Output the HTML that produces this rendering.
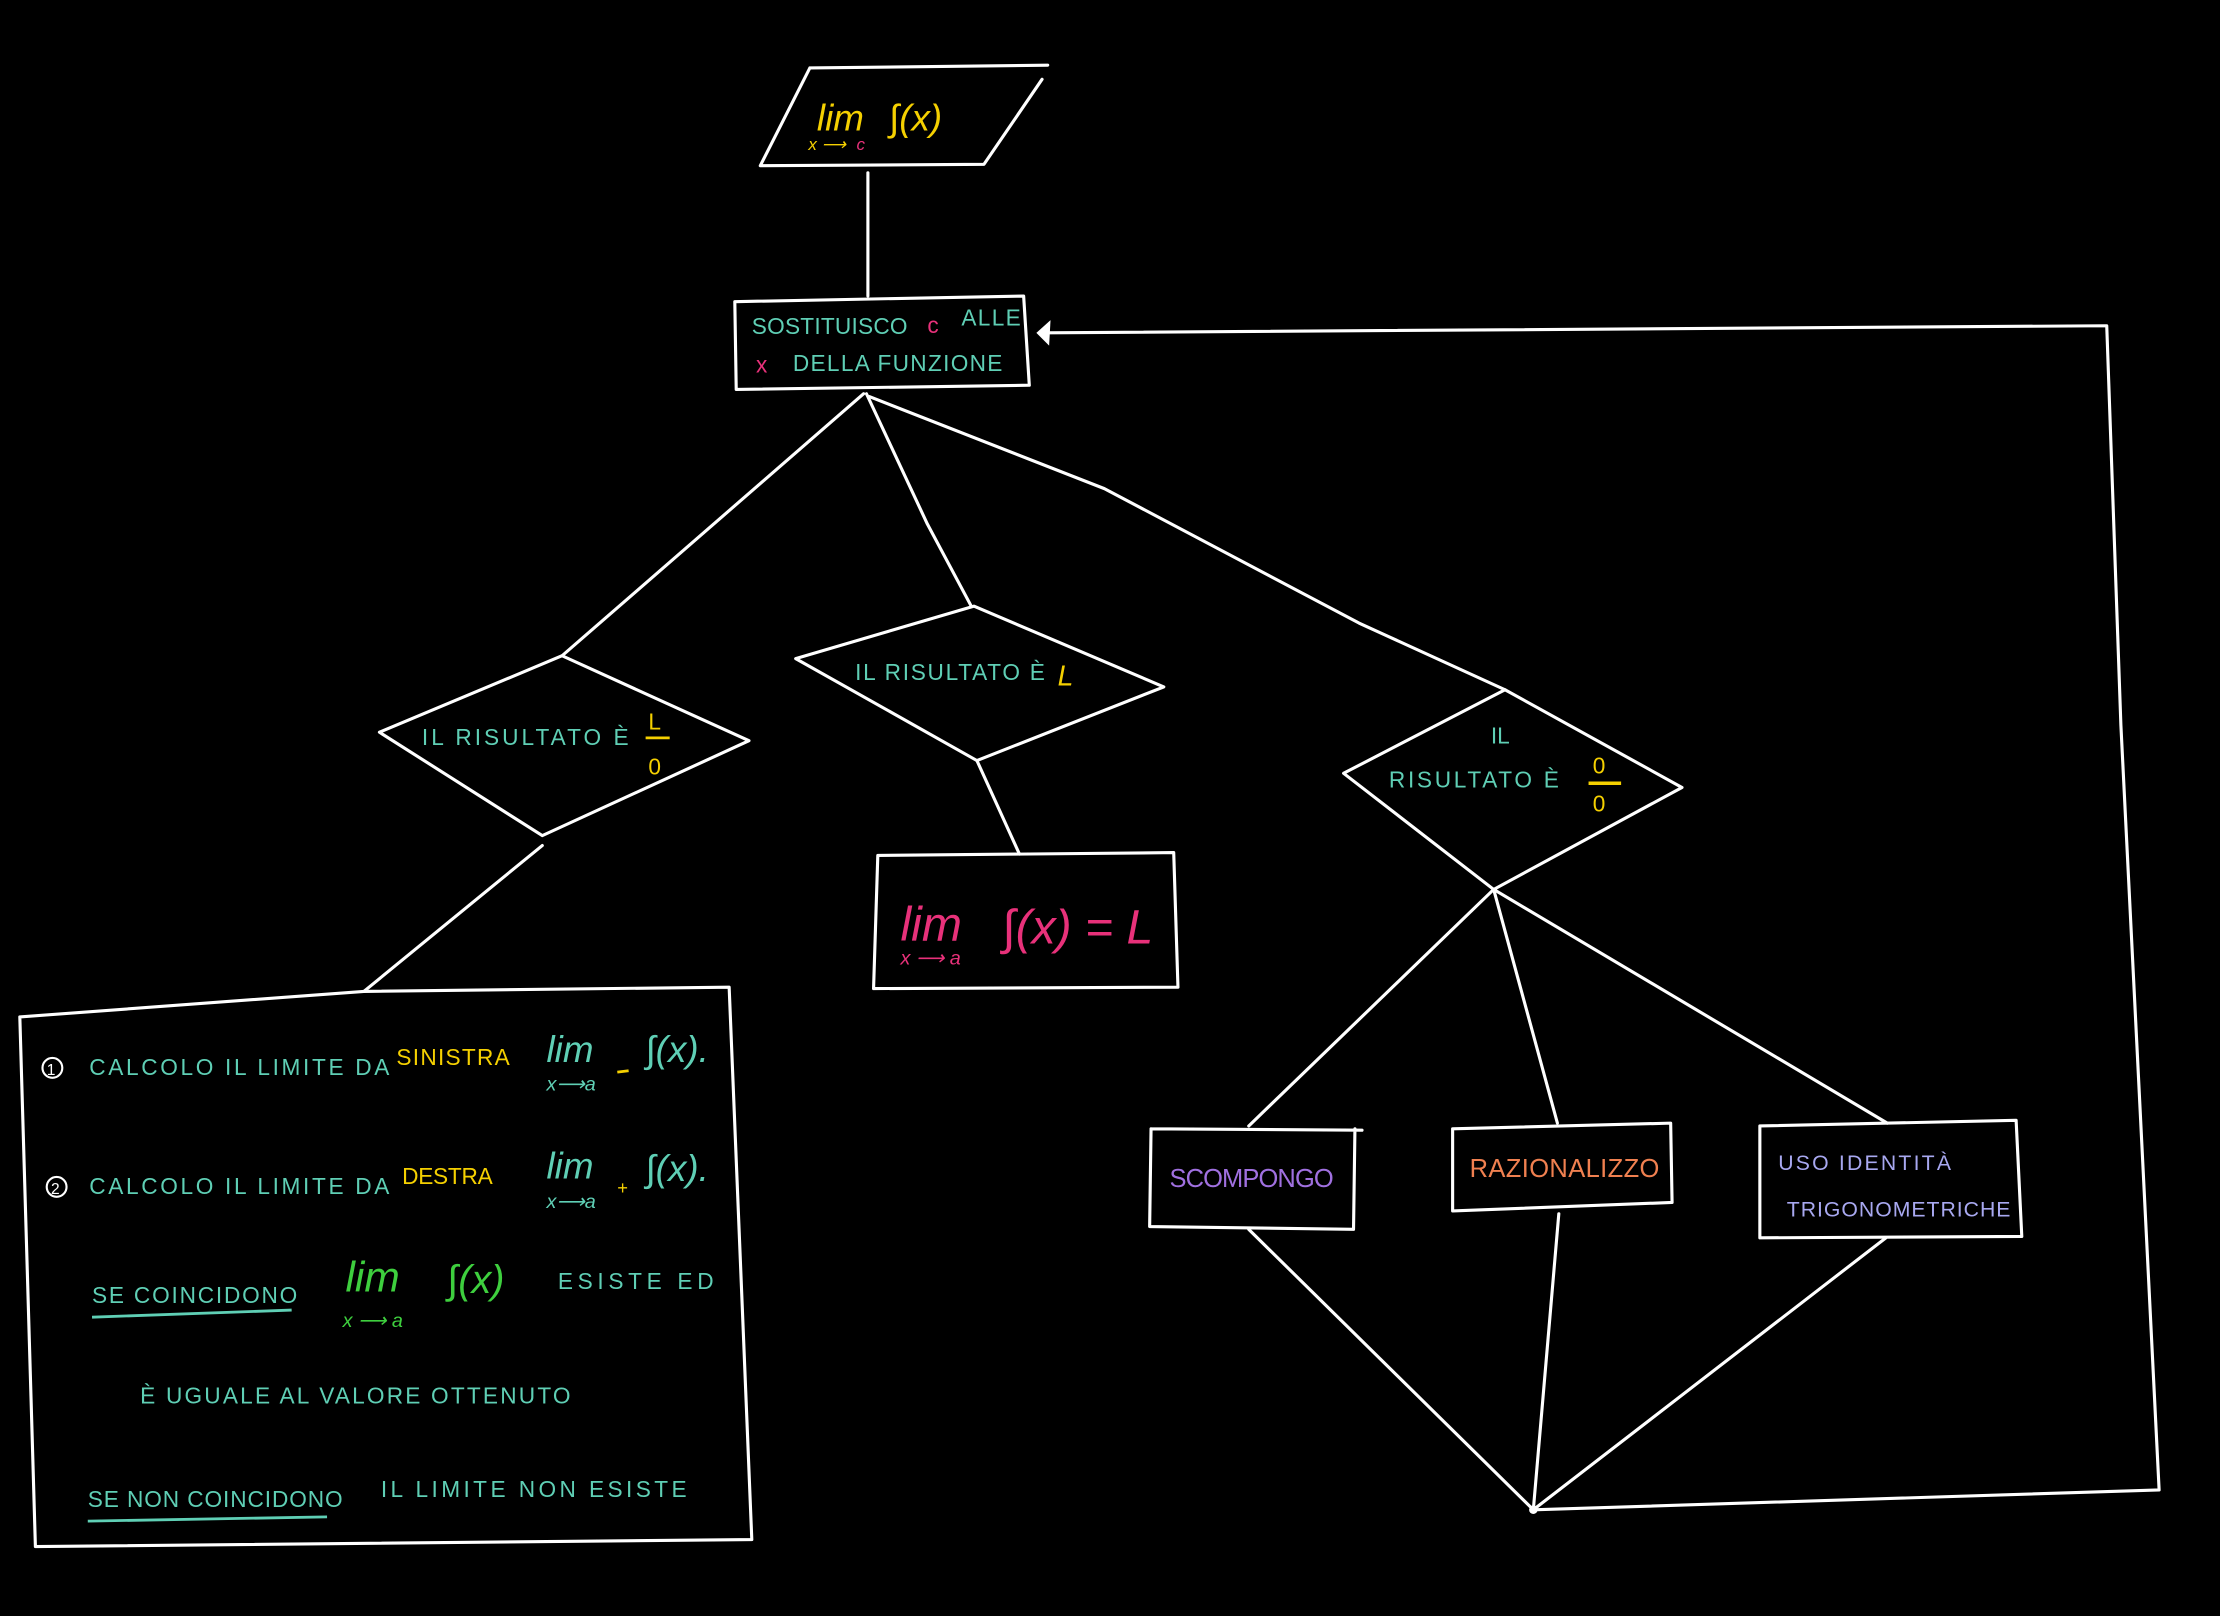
<!DOCTYPE html>
<html><head><meta charset="utf-8">
<style>
html,body{margin:0;padding:0;background:#000;}
svg{display:block;}
text{font-family:"Liberation Sans",sans-serif;}
</style></head>
<body>
<svg width="2220" height="1616" viewBox="0 0 1568 1141" preserveAspectRatio="none" xmlns="http://www.w3.org/2000/svg">
<rect width="1568" height="1141" fill="#000"/>
<g fill="none" stroke="#fff" stroke-width="2.2" stroke-linecap="round" stroke-linejoin="round">
<path d="M572,48 L740,46 M572,48 L537,117 L695,116 L736,56"/>
<line x1="613" y1="122" x2="613" y2="209"/>
<path d="M519,213 L723,209 L727,272 L520,275 Z"/>
<path d="M1083,1066 L1525,1052 L1498,512 L1488,230 L740,235"/>
<path d="M610,278 L397,463"/>
<path d="M612,278 L655,370 L686,428"/>
<path d="M614,280 L780,345 L960,440 L1063,487"/>
<path d="M397,463 L529,523 L383,590 L268,517 Z"/>
<path d="M383,597 L257,700"/>
<path d="M688,428 L822,485 L690,537 L562,465 Z"/>
<path d="M690,537 L720,603"/>
<path d="M620,604 L829,602 L832,697 L617,698 Z"/>
<path d="M1063,487 L1188,556 L1055,628 L949,546 Z"/>
<path d="M1055,628 L882,795"/>
<path d="M1055,628 L1100,793"/>
<path d="M1055,628 L1333,793"/>
<path d="M813,797 L962,798 M957,797 L956,868 L812,866 L813,797"/>
<path d="M1026,797 L1180,793 L1181,849 L1026,855 Z"/>
<path d="M1243,795 L1424,791 L1428,873 L1243,874 Z"/>
<path d="M882,868 L1083,1066 L1101,857"/>
<path d="M1332,874 L1083,1066"/>
<path d="M14,718 L257,700 L515,697 L531,1087 L25,1092 L14,718"/>
</g>
<polygon points="732,235 742,226 741,244" fill="#fff"/>
<circle cx="1083" cy="1066" r="3" fill="#fff"/>

<g font-style="italic">
<text x="577" y="92" font-size="26" fill="#f5d000">lim</text>
<text x="571" y="106" font-size="12" fill="#f5d000">x ⟶</text>
<text x="605" y="106" font-size="12" fill="#e8317a">c</text>
<text x="628" y="92" font-size="26" fill="#f5d000">∫(x)</text>
</g>
<text x="531" y="236" font-size="16" fill="#5fcfb5" textLength="110">SOSTITUISCO</text>
<text x="655" y="235" font-size="16" fill="#e8317a">c</text>
<text x="679" y="230" font-size="16" fill="#5fcfb5" textLength="42">ALLE</text>
<text x="534" y="263" font-size="16" fill="#e8317a">x</text>
<text x="560" y="262" font-size="16" fill="#5fcfb5" textLength="148">DELLA FUNZIONE</text>

<text x="298" y="526" font-size="16" fill="#5fcfb5" textLength="146">IL RISULTATO È</text>
<text x="458" y="515" font-size="16" fill="#f5d000">L</text>
<line x1="456" y1="521" x2="473" y2="521" stroke="#f5d000" stroke-width="2"/>
<text x="458" y="547" font-size="16" fill="#f5d000">0</text>
<text x="604" y="480" font-size="16" fill="#5fcfb5" textLength="134">IL RISULTATO È</text>
<text x="747" y="484" font-size="20" fill="#f5d000" font-style="italic">L</text>
<g font-style="italic" fill="#e8317a">
<text x="636" y="664" font-size="34">lim</text>
<text x="636" y="681" font-size="14">x ⟶ a</text>
<text x="708" y="666" font-size="34">∫(x) = L</text>
</g>
<text x="1053" y="525" font-size="16" fill="#5fcfb5">IL</text>
<text x="981" y="556" font-size="16" fill="#5fcfb5" textLength="120">RISULTATO È</text>
<text x="1125" y="546" font-size="16" fill="#f5d000">0</text>
<line x1="1122" y1="553" x2="1145" y2="553" stroke="#f5d000" stroke-width="2.5"/>
<text x="1125" y="573" font-size="16" fill="#f5d000">0</text>
<text x="826" y="838" font-size="18" fill="#a070e0" textLength="116">SCOMPONGO</text>
<text x="1038" y="831" font-size="18" fill="#f08050" textLength="134">RAZIONALIZZO</text>
<text x="1256" y="826" font-size="15" fill="#a8a8f0" textLength="122">USO IDENTITÀ</text>
<text x="1262" y="859" font-size="15" fill="#a8a8f0" textLength="158">TRIGONOMETRICHE</text>

<circle cx="37" cy="754" r="7" fill="none" stroke="#fff" stroke-width="1.5"/>
<text x="33" y="759" font-size="11" fill="#fff">1</text>
<text x="63" y="759" font-size="16" fill="#5fcfb5" textLength="212">CALCOLO IL LIMITE DA</text>
<text x="280" y="752" font-size="16" fill="#f5d000" textLength="80">SINISTRA</text>
<g font-style="italic" fill="#5fcfb5">
<text x="386" y="750" font-size="26">lim</text>
<text x="386" y="770" font-size="14">x⟶a</text>
<text x="456" y="750" font-size="26">∫(x).</text>
<text x="386" y="832" font-size="26">lim</text>
<text x="386" y="853" font-size="14">x⟶a</text>
<text x="456" y="834" font-size="26">∫(x).</text>
</g>
<line x1="436" y1="757" x2="444" y2="756" stroke="#f5d000" stroke-width="2"/>
<text x="436" y="843" font-size="13" fill="#f5d000">+</text>
<circle cx="40" cy="838" r="7" fill="none" stroke="#fff" stroke-width="1.5"/>
<text x="36" y="843" font-size="11" fill="#fff">2</text>
<text x="63" y="843" font-size="16" fill="#5fcfb5" textLength="212">CALCOLO IL LIMITE DA</text>
<text x="284" y="836" font-size="16" fill="#f5d000" textLength="64">DESTRA</text>
<text x="65" y="920" font-size="16" fill="#5fcfb5" textLength="145">SE COINCIDONO</text>
<path d="M65,930 L206,925" stroke="#5fcfb5" stroke-width="2"/>
<g font-style="italic" fill="#3ecf3e">
<text x="244" y="912" font-size="30">lim</text>
<text x="242" y="937" font-size="14">x ⟶ a</text>
<text x="316" y="913" font-size="28">∫(x)</text>
</g>
<text x="394" y="910" font-size="16" fill="#5fcfb5" textLength="110">ESISTE  ED</text>
<text x="99" y="991" font-size="16" fill="#5fcfb5" textLength="304">È UGUALE AL VALORE OTTENUTO</text>
<text x="62" y="1064" font-size="16" fill="#5fcfb5" textLength="180">SE NON COINCIDONO</text>
<path d="M62,1074 L231,1071" stroke="#5fcfb5" stroke-width="2"/>
<text x="269" y="1057" font-size="16" fill="#5fcfb5" textLength="216">IL LIMITE NON ESISTE</text>
</svg>
</body></html>
